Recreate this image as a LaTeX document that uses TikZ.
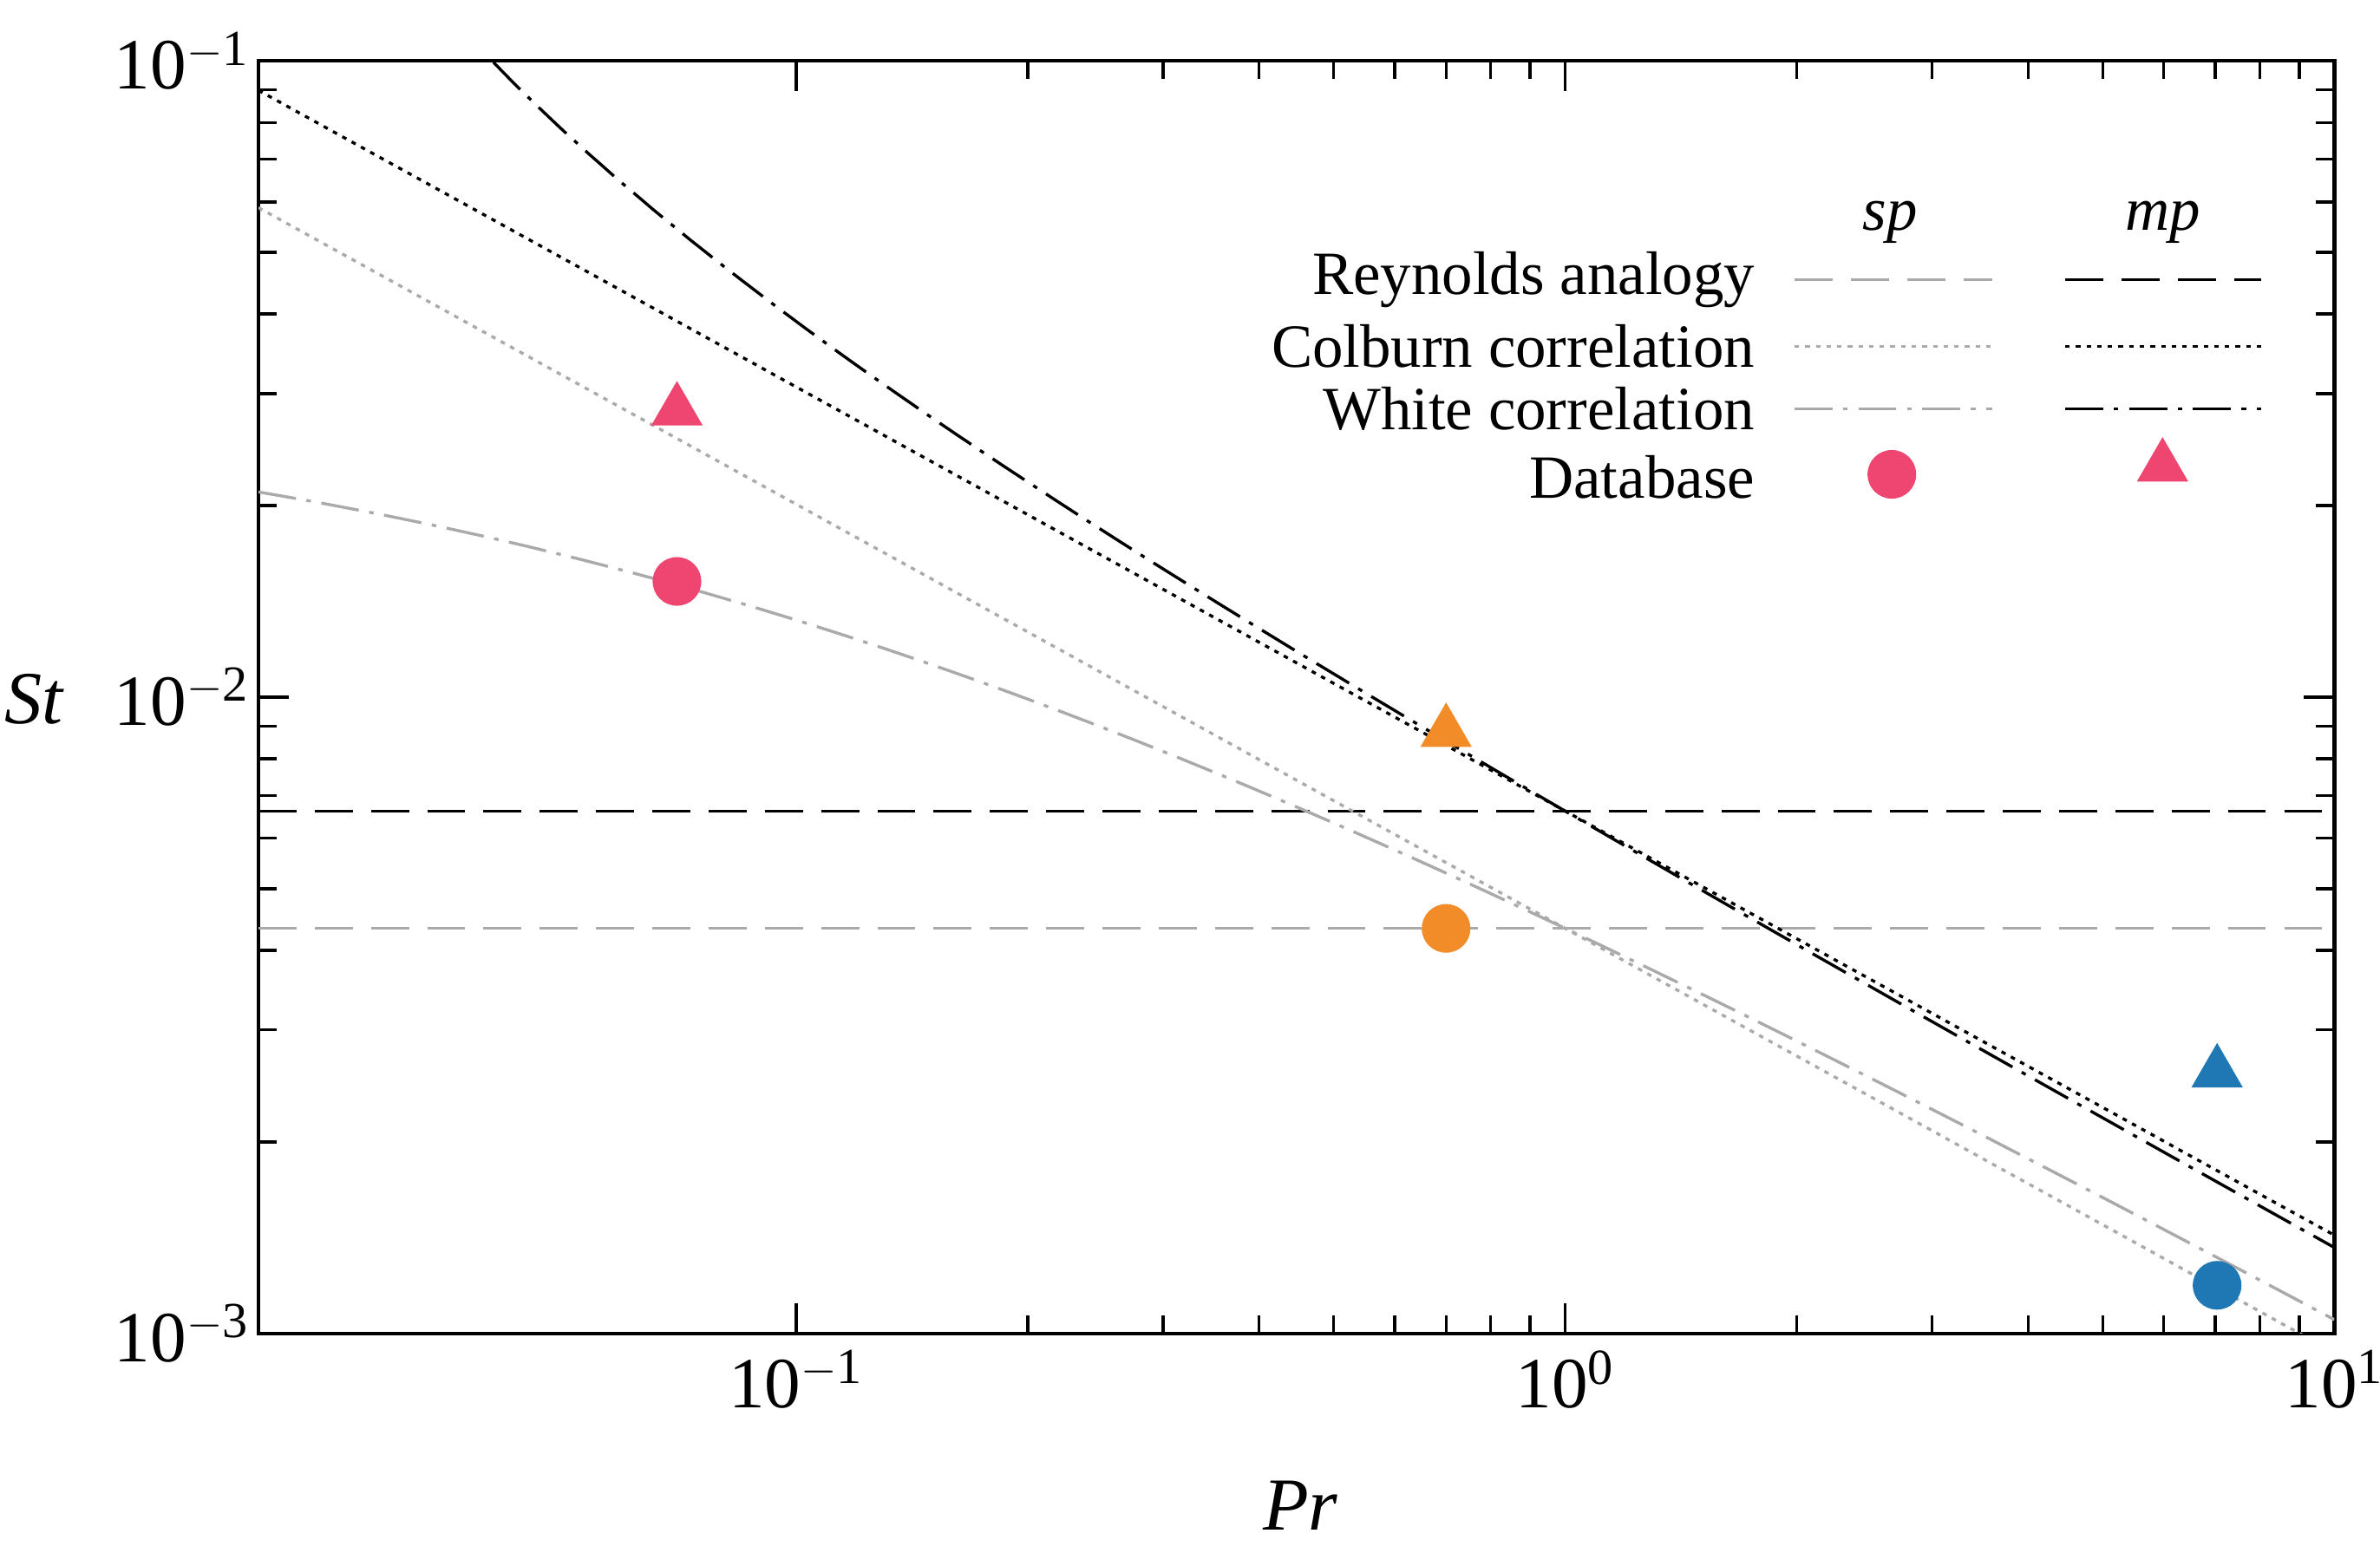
\documentclass[tikz,border=0pt]{standalone}
\usepackage{fontspec}
\setmainfont{Liberation Serif}
\usepackage{pgfplots}
\pgfplotsset{compat=1.18}
\definecolor{cpink}{HTML}{EE4670}
\definecolor{corange}{HTML}{F28C28}
\definecolor{cblue}{HTML}{1F77B4}
\definecolor{lgray}{HTML}{AAAAAA}
\tikzset{
  reyn/.style={dash pattern=on 0.5cm off 0.24cm, line width=1.1pt},
  colb/.style={dash pattern=on 0.06cm off 0.08cm, line width=1.1pt},
  whit/.style={dash pattern=on 0.5cm off 0.14cm on 0.06cm off 0.14cm, line width=1.1pt},
  sp/.style={lgray},
  mp/.style={black},
  lab/.style={font=\fontsize{23}{27}\selectfont},
  circmark/.style={circle, inner sep=0pt, minimum size=0.64cm},
  trimark/.style={regular polygon, regular polygon sides=3, inner sep=0pt, minimum size=0.78cm}
}
\usetikzlibrary{shapes.geometric}
\newcommand{\tl}[1]{10\textsuperscript{#1}}
\begin{document}
\begin{tikzpicture}
\useasboundingbox (-3.4,-2.88) rectangle (27.9,17.54);
\begin{loglogaxis}[
  at={(0,0)}, anchor=south west, scale only axis,
  width=27.3cm, height=16.74cm,
  xmin=0.02, xmax=10, ymin=0.001, ymax=0.1,
  axis line style={line width=1.4pt},
  tick style={black, line width=1.1pt},
  major tick length=0.4cm, minor tick length=0.24cm,
  tick align=inside, xtick pos=both, ytick pos=both,
  xtick={0.1,1,10}, xticklabels={\tl{$-$1},\tl{0},\tl{1}},
  ytick={0.001,0.01,0.1}, yticklabels={\tl{$-$3},\tl{$-$2},\tl{$-$1}},
  ticklabel style={font=\fontsize{27}{31}\selectfont},
  xticklabel style={yshift=-0.1cm},
  clip=true,
]
\addplot[sp,reyn,domain=-1.699:1,samples=2] ({10^x},{0.00433});
\addplot[mp,reyn,domain=-1.699:1,samples=2] ({10^x},{0.00662});
\addplot[sp,colb,domain=-1.699:1,samples=60] ({10^x},{0.00433*(10^x)^(-2/3)});
\addplot[mp,colb,domain=-1.699:1,samples=60] ({10^x},{0.00662*(10^x)^(-2/3)});
\addplot[sp,whit,domain=-1.699:1,samples=150] ({10^x},{0.00433/(1+0.857*((10^x)^(2/3)-1))});
\addplot[mp,whit,domain=-1.45:1,samples=150] ({10^x},{0.00662/(1+1.058*((10^x)^(2/3)-1))});
\node[circmark,fill=cpink] (p1) at (axis cs:0.07,0.0152) {};
\node[trimark,fill=cpink] (p2) at (axis cs:0.07,0.0282) {};
\node[circmark,fill=corange] (p3) at (axis cs:0.7,0.00433) {};
\node[trimark,fill=corange] (p4) at (axis cs:0.7,0.00881) {};
\node[circmark,fill=cblue] (p5) at (axis cs:7.04,0.00119) {};
\node[trimark,fill=cblue] (p6) at (axis cs:7.04,0.00257) {};
\end{loglogaxis}
\node[font=\fontsize{28}{32}\selectfont\itshape] (st) at (-2.96,8.34) {St};
\node[font=\fontsize{28}{32}\selectfont\itshape] (pr) at (13.7,-2.26) {Pr};
\node[lab,font=\fontsize{23}{27}\selectfont\itshape] (hsp) at (21.46,14.62) {sp};
\node[lab,font=\fontsize{23}{27}\selectfont\itshape] (hmp) at (25.04,14.62) {mp};
\node[lab,anchor=east] (l1) at (19.8,13.86) {Reynolds analogy};
\node[lab,anchor=east] (l2) at (19.8,12.98) {Colburn correlation};
\node[lab,anchor=east] (l3) at (19.8,12.16) {White correlation};
\node[lab,anchor=east] (l4) at (19.8,11.26) {Database};
\coordinate (a1) at (20.2,13.86); \coordinate (b1) at (22.8,13.86);
\coordinate (c1) at (23.76,13.86); \coordinate (d1) at (26.34,13.86);
\coordinate (a2) at (20.2,12.98); \coordinate (b2) at (22.8,12.98);
\coordinate (c2) at (23.76,12.98); \coordinate (d2) at (26.34,12.98);
\coordinate (a3) at (20.2,12.16); \coordinate (b3) at (22.8,12.16);
\coordinate (c3) at (23.76,12.16); \coordinate (d3) at (26.34,12.16);
\draw[sp,reyn] (a1) -- (b1); \draw[mp,reyn] (c1) -- (d1);
\draw[sp,colb] (a2) -- (b2); \draw[mp,colb] (c2) -- (d2);
\draw[sp,whit] (a3) -- (b3); \draw[mp,whit] (c3) -- (d3);
\node[circmark,fill=cpink] (m1) at (21.48,11.3) {};
\node[trimark,fill=cpink] (m2) at (25.04,11.4) {};
\end{tikzpicture}
\end{document}
